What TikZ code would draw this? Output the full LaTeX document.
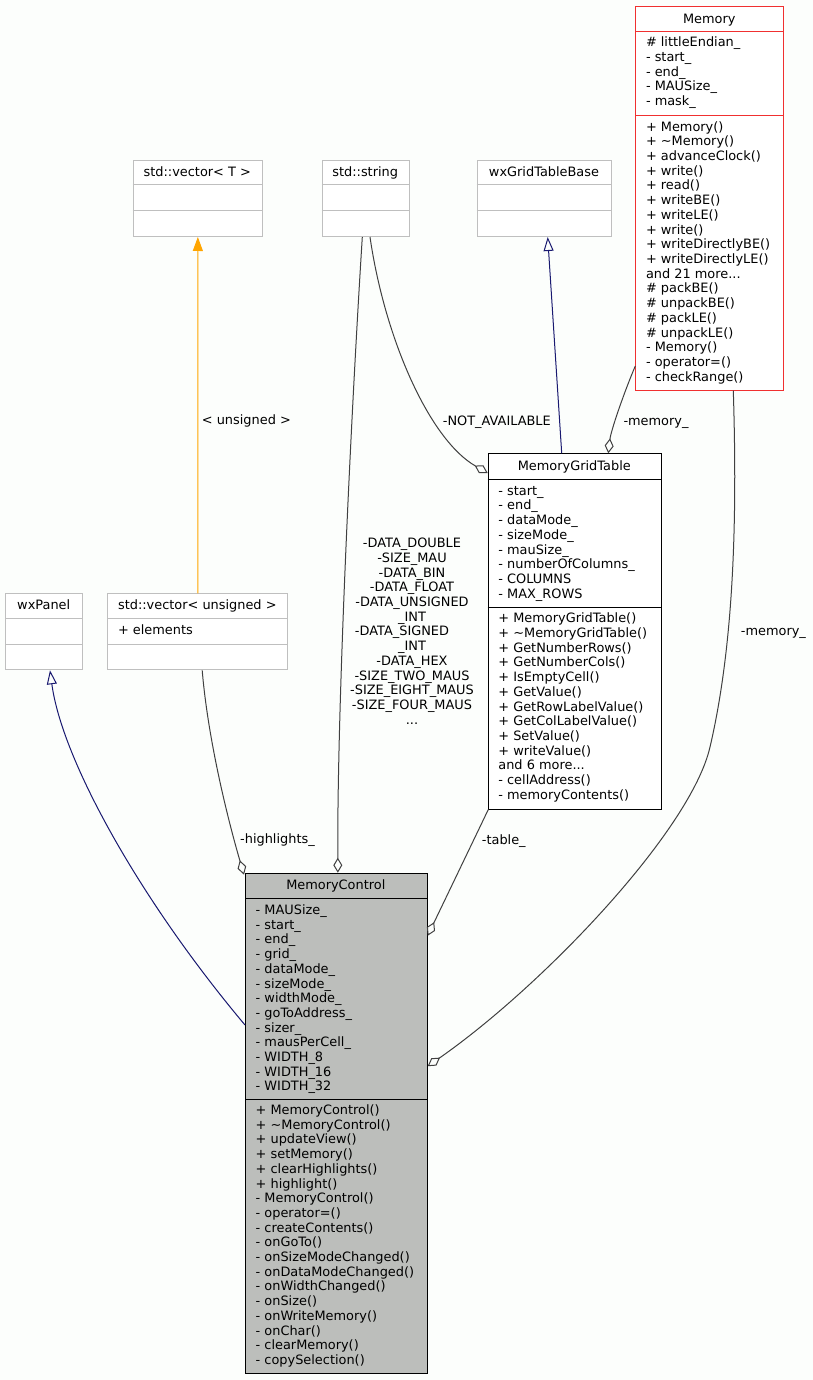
\documentclass[tikz,border=0pt]{standalone}
\usepackage{fontspec}
\setmainfont{DejaVu Sans}
\usetikzlibrary{arrows.meta,calc}
\definecolor{edgegray}{HTML}{404040}
\definecolor{boxgray}{HTML}{BFBFBF}
\definecolor{mcfill}{HTML}{BCBEBB}
\definecolor{inhblue}{HTML}{191970}
\definecolor{tmplorange}{HTML}{FFA500}
\definecolor{trunc}{HTML}{F03030}
\definecolor{bg}{HTML}{FCFEFC}
\newcommand\umlfont{\fontsize{12.9}{14.7}\selectfont}
\newcommand\threedots{...}
\newcommand\members[4]{%
  \foreach \t [count=\i] in {#4} {\node[member] (#1\i) at (#2,{#3+(\i-1)*14.7}) {\t};}}
\tikzset{
  every node/.style={font=\umlfont, text=black},
  ubox/.style={draw, rectangle, inner sep=0pt, anchor=north west, line width=1pt},
  greybox/.style={ubox, draw=boxgray, fill=white},
  blackbox/.style={ubox, draw=black, fill=white},
  redbox/.style={ubox, draw=trunc, fill=white},
  focusbox/.style={ubox, draw=black, fill=mcfill},
  member/.style={anchor=base west, inner sep=0pt},
  title/.style={anchor=base, inner sep=0pt},
  elabel/.style={anchor=base west, inner sep=0pt},
  agg/.style={draw=edgegray, line width=1pt, {Diamond[open, length=15pt, width=9pt, line width=1pt]}-},
  inh/.style={draw=inhblue, line width=1pt, -{Triangle[open, length=14pt, width=10pt, line width=1pt]}},
  tmpl/.style={draw=tmplorange, line width=1pt, -{Triangle[length=14pt, width=10pt]}},
}
\begin{document}
\begin{tikzpicture}[x=1pt, y=-1pt]
\useasboundingbox (0,0) rectangle (813,1380);
\fill[bg] (0,0) rectangle (813,1380);

% std::vector< T >
\node[greybox, minimum width=129.3pt, minimum height=76.3pt] (vecT) at (132.7,159.7) {};
\draw[boxgray, line width=1pt] (132.7,185) -- ++(129.3,0) (132.7,210.7) -- ++(129.3,0);
\node[title] (vecTt) at (197.3,176.5) {std::vector< T >};

% std::string
\node[greybox, minimum width=87pt, minimum height=76.3pt] (str) at (321.7,159.7) {};
\draw[boxgray, line width=1pt] (321.7,185) -- ++(87,0) (321.7,210.7) -- ++(87,0);
\node[title] (strt) at (365.2,176.5) {std::string};

% wxGridTableBase
\node[greybox, minimum width=134.6pt, minimum height=76.3pt] (wxg) at (476.7,159.7) {};
\draw[boxgray, line width=1pt] (476.7,185) -- ++(134.6,0) (476.7,210.7) -- ++(134.6,0);
\node[title] (wxgt) at (544,176.5) {wxGridTableBase};

% Memory
\node[redbox, minimum width=148pt, minimum height=383.7pt] (mem) at (635.3,6) {};
\draw[trunc, line width=1pt] (635.3,31.7) -- ++(148,0) (635.3,115.3) -- ++(148,0);
\node[title] (memt) at (709.3,23.5) {Memory};
\members{mema}{645.8}{46.8}{\# littleEndian\_, - start\_, - end\_, - MAUSize\_, - mask\_}
\members{memm}{645.8}{131.2}{+ Memory(), + \textasciitilde Memory(), + advanceClock(), + write(), + read(), + writeBE(), + writeLE(), + write(), + writeDirectlyBE(), + writeDirectlyLE(), and 21 more\threedots, \# packBE(), \# unpackBE(), \# packLE(), \# unpackLE(), - Memory(), - operator=(), - checkRange()}

% wxPanel
\node[greybox, minimum width=77.3pt, minimum height=76pt] (wxp) at (5,593.3) {};
\draw[boxgray, line width=1pt] (5,618.3) -- ++(77.3,0) (5,644) -- ++(77.3,0);
\node[title] (wxpt) at (43.7,609.5) {wxPanel};

% std::vector< unsigned >
\node[greybox, minimum width=180pt, minimum height=76pt] (vecU) at (107.3,593.3) {};
\draw[boxgray, line width=1pt] (107.3,618.3) -- ++(180,0) (107.3,644) -- ++(180,0);
\node[title] (vecUt) at (197.3,609.5) {std::vector< unsigned >};
\members{vecUa}{117.8}{634.5}{+ elements}

% MemoryGridTable
\node[blackbox, minimum width=173.3pt, minimum height=355.2pt] (mgt) at (487.7,453.3) {};
\draw[black, line width=1pt] (487.7,479.3) -- ++(173.3,0) (487.7,607.3) -- ++(173.3,0);
\node[title] (mgtt) at (574.3,470.5) {MemoryGridTable};
\members{mgta}{498.2}{495.2}{- start\_, - end\_, - dataMode\_, - sizeMode\_, - mauSize\_, - numberOfColumns\_, - COLUMNS, - MAX\_ROWS}
\members{mgtm}{498.2}{622.8}{+ MemoryGridTable(), + \textasciitilde MemoryGridTable(), + GetNumberRows(), + GetNumberCols(), + IsEmptyCell(), + GetValue(), + GetRowLabelValue(), + GetColLabelValue(), + SetValue(), + writeValue(), and 6 more\threedots, - cellAddress(), - memoryContents()}

% MemoryControl
\node[focusbox, minimum width=181.7pt, minimum height=500.6pt] (mc) at (245,872.7) {};
\draw[black, line width=1pt] (245,898.3) -- ++(181.7,0) (245,1099) -- ++(181.7,0);
\node[title] (mct) at (335.8,889.8) {MemoryControl};
\members{mca}{255.5}{914.5}{- MAUSize\_, - start\_, - end\_, - grid\_, - dataMode\_, - sizeMode\_, - widthMode\_, - goToAddress\_, - sizer\_, - mausPerCell\_, - WIDTH\_8, - WIDTH\_16, - WIDTH\_32}
\members{mcm}{255.5}{1114.5}{+ MemoryControl(), + \textasciitilde MemoryControl(), + updateView(), + setMemory(), + clearHighlights(), + highlight(), - MemoryControl(), - operator=(), - createContents(), - onGoTo(), - onSizeModeChanged(), - onDataModeChanged(), - onWidthChanged(), - onSize(), - onWriteMemory(), - onChar(), - clearMemory(), - copySelection()}

% ---- connectors ----
% template instantiation
\draw[tmpl] (vecU.north) -- (vecT.south);
\node[elabel] (lunsigned) at (201.7,424.5) {< unsigned >};

% inheritance wxPanel <- MemoryControl
\draw[inh] ($(mc.north west)+(0,152.3)$) .. controls (140,900) and (62,760) .. ($(wxp.south west)+(45,0)$);

% inheritance wxGridTableBase <- MemoryGridTable
\draw[inh] ($(mgt.north west)+(74,0)$) -- ($(wxg.south west)+(71,0)$);

% std::string -> MemoryControl
\draw[agg] ($(mc.north)+(1.5,0)$) .. controls (337,700) and (352,400) .. ($(str.south west)+(40.6,0)$);
\node[align=center, anchor=north, inner sep=0pt] (ldata) at (412,538) {-DATA\_DOUBLE\\-SIZE\_MAU\\-DATA\_BIN\\-DATA\_FLOAT\\-DATA\_UNSIGNED\\\_INT\\-DATA\_SIGNED\rule{20pt}{0pt}\\\_INT\\-DATA\_HEX\\-SIZE\_TWO\_MAUS\\-SIZE\_EIGHT\_MAUS\\-SIZE\_FOUR\_MAUS\\...};

% std::vector<unsigned> -> MemoryControl
\draw[agg] ($(mc.north west)+(-1,2)$) .. controls (228,820) and (208,740) .. ($(vecU.south)+(4.4,0)$);
\node[elabel] (lhigh) at (240,843.8) {-highlights\_};

% MemoryGridTable -> MemoryControl
\draw[agg] ($(mc.north east)+(0,63)$) -- ($(mgt.south west)+(0.6,0)$);
\node[elabel] (ltable) at (481.7,844.5) {-table\_};

% Memory -> MemoryControl
\draw[agg] ($(mc.north east)+(0,193.5)$) .. controls (544,985) and (691,830) .. (710,747) .. controls (735,640) and (737,510) .. ($(mem.south west)+(98,0)$);
\node[elabel] (lmem2) at (740.7,635.2) {-memory\_};

% Memory -> MemoryGridTable
\draw[agg] ($(mgt.north west)+(120.6,0)$) .. controls (611,430) and (625,390) .. ($(mem.north west)+(0,360)$);
\node[elabel] (lmem1) at (623.3,425.2) {-memory\_};

% std::string -> MemoryGridTable
\draw[agg] ($(mgt.north west)+(0,19.7)$) .. controls (430,440) and (385,340) .. ($(str.south west)+(48.3,0)$);
\node[elabel] (lnot) at (442.7,425.2) {-NOT\_AVAILABLE};
\end{tikzpicture}
\end{document}
